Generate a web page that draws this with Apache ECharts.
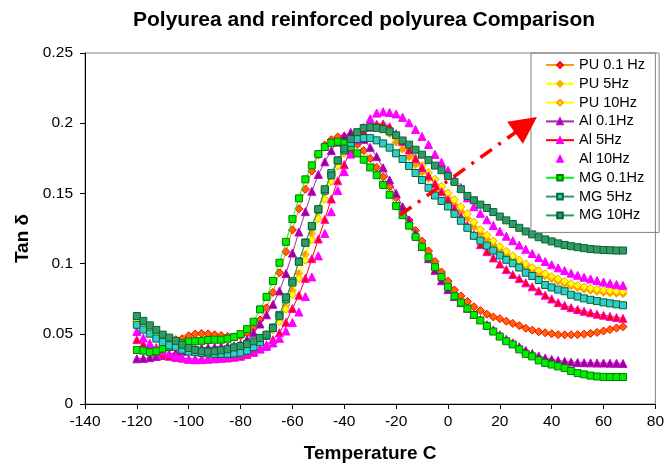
<!DOCTYPE html>
<html>
<head>
<meta charset="utf-8">
<script src="https://cdn.jsdelivr.net/npm/echarts@6/dist/echarts.min.js"></script>
<style>
html,body{margin:0;padding:0;background:#fff;}
#chart{width:667px;height:468px;}
</style>
</head>
<body>
<div id="chart"></div>
<script>
const temps = [-120,-117.5,-115,-112.5,-110,-107.5,-105,-102.5,-100,-97.5,-95,-92.5,-90,-87.5,-85,-82.5,-80,-77.5,-75,-72.5,-70,-67.5,-65,-62.5,-60,-57.5,-55,-52.5,-50,-47.5,-45,-42.5,-40,-37.5,-35,-32.5,-30,-27.5,-25,-22.5,-20,-17.5,-15,-12.5,-10,-7.5,-5,-2.5,0,2.5,5,7.5,10,12.5,15,17.5,20,22.5,25,27.5,30,32.5,35,37.5,40,42.5,45,47.5,50,52.5,55,57.5,60,62.5,65,67.5];

const pu01 = [0.0606,0.0575,0.0545,0.0515,0.049,0.047,0.0458,0.0465,0.0486,0.0498,0.0502,0.05,0.0493,0.0488,0.0482,0.0478,0.0484,0.0505,0.054,0.0598,0.0685,0.0795,0.0935,0.1085,0.124,0.139,0.153,0.166,0.1775,0.1845,0.1882,0.1902,0.1905,0.1885,0.1848,0.1805,0.1748,0.1685,0.1618,0.1548,0.147,0.139,0.131,0.1235,0.116,0.109,0.1015,0.094,0.0875,0.0812,0.077,0.073,0.0693,0.0665,0.064,0.062,0.0608,0.059,0.0574,0.0558,0.054,0.0526,0.0515,0.0507,0.05,0.0494,0.0493,0.0493,0.0494,0.0497,0.0502,0.051,0.052,0.053,0.0541,0.055];
const pu5 = [0.0598,0.0565,0.0532,0.05,0.047,0.0445,0.0425,0.0405,0.039,0.038,0.0373,0.0368,0.0366,0.0367,0.037,0.0377,0.0388,0.0405,0.0428,0.0458,0.0495,0.0545,0.0615,0.0705,0.081,0.093,0.1065,0.1215,0.1365,0.1505,0.1625,0.173,0.1815,0.188,0.1925,0.1955,0.1975,0.1985,0.1965,0.1925,0.1865,0.1815,0.176,0.1705,0.1652,0.1605,0.156,0.151,0.1462,0.142,0.137,0.1322,0.1262,0.1212,0.1175,0.1135,0.1098,0.1063,0.1032,0.1003,0.0978,0.0952,0.0932,0.0912,0.0892,0.0874,0.0857,0.0841,0.0828,0.0818,0.0809,0.0801,0.0795,0.0791,0.0788,0.0785];
const pu10 = [0.0592,0.0558,0.0526,0.0495,0.0466,0.0441,0.042,0.0402,0.0388,0.0378,0.0371,0.0367,0.0365,0.0366,0.0369,0.0375,0.0385,0.04,0.042,0.0448,0.0482,0.0528,0.059,0.0675,0.078,0.0895,0.1025,0.117,0.132,0.146,0.1585,0.1695,0.1785,0.1855,0.1905,0.1945,0.197,0.1985,0.199,0.1962,0.1915,0.1862,0.1808,0.1752,0.1698,0.1648,0.16,0.155,0.1502,0.1455,0.1405,0.1355,0.1295,0.1242,0.1202,0.1162,0.1122,0.1088,0.1055,0.1025,0.0998,0.0972,0.095,0.0928,0.0908,0.089,0.0873,0.0857,0.0844,0.0833,0.0824,0.0816,0.081,0.0806,0.0803,0.0801];
const al01 = [0.0322,0.0325,0.033,0.0338,0.0345,0.0355,0.0365,0.0375,0.0385,0.0392,0.0398,0.0402,0.0405,0.0408,0.041,0.0415,0.0425,0.046,0.051,0.057,0.0635,0.071,0.0805,0.093,0.1075,0.1225,0.137,0.1515,0.1635,0.1725,0.1805,0.1865,0.191,0.1935,0.1925,0.1885,0.1828,0.1762,0.1682,0.1595,0.15,0.1405,0.131,0.1215,0.1122,0.1035,0.0952,0.0878,0.0815,0.0765,0.0722,0.0682,0.064,0.0602,0.0565,0.0528,0.0493,0.0462,0.0436,0.0408,0.0382,0.036,0.0342,0.0328,0.0318,0.031,0.0304,0.0299,0.0296,0.0294,0.0293,0.0292,0.0292,0.0291,0.029,0.0289];
const al5 = [0.0458,0.0425,0.0395,0.037,0.0352,0.034,0.0332,0.0327,0.0322,0.032,0.032,0.032,0.0322,0.0325,0.0328,0.0333,0.034,0.0352,0.0368,0.0392,0.0422,0.0458,0.0508,0.0582,0.068,0.0775,0.0895,0.1035,0.1175,0.1315,0.146,0.159,0.1705,0.1805,0.188,0.1935,0.1972,0.1992,0.1995,0.1975,0.1925,0.187,0.181,0.1748,0.1685,0.1625,0.1568,0.1512,0.1455,0.1395,0.1335,0.127,0.1205,0.1135,0.1085,0.104,0.0997,0.0958,0.0922,0.0893,0.0863,0.0835,0.0805,0.0775,0.0748,0.0722,0.0702,0.0686,0.0673,0.0661,0.065,0.064,0.0632,0.0624,0.0616,0.061];
const al10 = [0.0517,0.047,0.0432,0.0402,0.0378,0.0358,0.0342,0.0328,0.0318,0.0315,0.0316,0.032,0.0326,0.0333,0.0339,0.0345,0.0352,0.0364,0.0378,0.0393,0.041,0.0435,0.0468,0.052,0.058,0.0655,0.0765,0.0905,0.1055,0.1215,0.137,0.152,0.1655,0.178,0.1885,0.197,0.2032,0.2072,0.2082,0.2076,0.2066,0.2042,0.2003,0.1955,0.1905,0.1848,0.1778,0.1722,0.1665,0.1598,0.1543,0.1468,0.1405,0.1358,0.1312,0.1272,0.123,0.1195,0.1163,0.1132,0.1102,0.1072,0.1043,0.1015,0.0992,0.097,0.095,0.0932,0.0917,0.0903,0.0891,0.0879,0.0869,0.086,0.0852,0.0845];
const mg01 = [0.0385,0.038,0.0369,0.0376,0.0394,0.0406,0.042,0.0434,0.0445,0.0447,0.045,0.0456,0.0458,0.0458,0.0465,0.0477,0.0498,0.0533,0.0586,0.0674,0.0763,0.0876,0.1006,0.1155,0.1317,0.1465,0.16,0.17,0.178,0.183,0.186,0.1868,0.1858,0.183,0.1785,0.174,0.1685,0.163,0.156,0.149,0.141,0.1345,0.127,0.119,0.112,0.1045,0.0975,0.0905,0.0835,0.0768,0.0722,0.068,0.0634,0.0595,0.0556,0.0516,0.048,0.0447,0.0424,0.0389,0.0357,0.0339,0.0311,0.0293,0.0281,0.0268,0.0256,0.0235,0.022,0.0211,0.0202,0.0196,0.0193,0.0192,0.0192,0.0192];
const mg5 = [0.0564,0.053,0.0501,0.0466,0.0441,0.0418,0.0408,0.0387,0.0374,0.0369,0.0364,0.036,0.0357,0.0357,0.0357,0.036,0.0366,0.038,0.0405,0.044,0.0485,0.0545,0.0635,0.0745,0.0875,0.1015,0.115,0.1265,0.1385,0.152,0.1645,0.1735,0.1805,0.186,0.1888,0.1894,0.1894,0.1878,0.1856,0.1826,0.1785,0.1745,0.1695,0.1645,0.1595,0.154,0.1485,0.1446,0.1407,0.1354,0.1305,0.1255,0.1198,0.1163,0.1128,0.1093,0.1058,0.1027,0.1002,0.0972,0.0935,0.0912,0.0883,0.0848,0.083,0.0815,0.0803,0.0778,0.0765,0.0752,0.0742,0.0733,0.0724,0.0717,0.071,0.0703];
const mg10 = [0.0627,0.0592,0.056,0.0528,0.0494,0.0473,0.045,0.0422,0.0399,0.0385,0.0376,0.0373,0.0376,0.0383,0.039,0.0403,0.0413,0.0427,0.0446,0.047,0.0494,0.054,0.0625,0.076,0.0865,0.1013,0.1148,0.1268,0.1388,0.153,0.1628,0.1734,0.1819,0.1887,0.1936,0.1965,0.1972,0.1967,0.1958,0.1941,0.1914,0.1877,0.1847,0.1811,0.1776,0.1737,0.1698,0.1665,0.1623,0.1582,0.153,0.1482,0.1451,0.142,0.1396,0.1367,0.1335,0.1308,0.1282,0.1255,0.1229,0.1208,0.1188,0.1172,0.1158,0.1144,0.1133,0.1124,0.1117,0.111,0.1104,0.11,0.1097,0.1095,0.1093,0.1093];

const seriesNames = ['PU 0.1 Hz','PU 5Hz','PU 10Hz','Al 0.1Hz','Al 5Hz','Al 10Hz','MG 0.1Hz','MG 5Hz','MG 10Hz'];
const xTicks = {min: -140, max: 80, step: 20};
const yTicks = {min: 0, max: 0.25, step: 0.05};
const arrowStart = [-18.5, 0.1345];
const arrowEnd = [30.1, 0.1988];

function pts(arr){ return temps.map((t,i)=>[t, arr[i]]); }

const styles = [
  {data: pu01, symbol:'diamond', size:8, line:'#FF9900', fill:'#FF6600', border:'#FF0000'},
  {data: pu5, symbol:'diamond', size:8, line:'#FFFF00', fill:'#FF9900', border:'#FFB000'},
  {data: pu10, symbol:'diamond', size:8, line:'#FFFF00', fill:'#FFFF00', border:'#FF9900'},
  {data: al01, symbol:'triangle', size:8, line:'#993399', fill:'#990099', border:'#CC00CC'},
  {data: al5, symbol:'triangle', size:8, line:'#FF0000', fill:'#FF0000', border:'#FF00FF'},
  {data: al10, symbol:'triangle', size:8, line:null, fill:'#FF00FF', border:'#FF00FF'},
  {data: mg01, symbol:'rect', size:7, line:'#00FF00', fill:'#00EE00', border:'#008000'},
  {data: mg5, symbol:'rect', size:7, line:'#339966', fill:'#33CCCC', border:'#006633'},
  {data: mg10, symbol:'rect', size:7, line:'#339966', fill:'#339966', border:'#006633'}
];

const series = styles.map((s,i)=>({
  name: seriesNames[i],
  type: 'line',
  data: pts(s.data),
  symbol: s.symbol,
  symbolSize: s.size,
  showAllSymbol: true,
  smooth: false,
  lineStyle: s.line ? {color: s.line, width: 1} : {color: s.fill, width: 0, opacity: 0},
  itemStyle: {color: s.fill, borderColor: s.border, borderWidth: 1},
  emphasis: {disabled: true},
  z: 2 + i*0.01
}));

series[8].markLine = {
  silent: true,
  z: 20,
  animation: false,
  symbol: ['none', 'triangle'],
  symbolSize: 27,
  label: {show: false},
  lineStyle: {color: '#FF0000', width: 3.5, type: [14, 8, 3, 8], opacity: 1},
  data: [[{coord: arrowStart}, {coord: arrowEnd}]]
};

const chart = echarts.init(document.getElementById('chart'), null, {renderer: 'canvas'});
chart.setOption({
  animation: false,
  backgroundColor: '#FFFFFF',
  textStyle: {fontFamily: 'Liberation Sans, Arial, sans-serif', color: '#000'},
  title: {
    text: 'Polyurea and reinforced polyurea Comparison',
    left: 128, top: 5,
    textStyle: {fontSize: 21, fontWeight: 'bold', color: '#000', fontFamily: 'Liberation Sans, Arial, sans-serif'}
  },
  grid: {left: 85, right: 6, top: 53, bottom: 61.5, show: true, borderColor: '#808080', borderWidth: 1, backgroundColor: 'transparent'},
  legend: {
    orient: 'vertical',
    left: 531, top: 53,
    padding: [4, 14, 9, 14],
    itemWidth: 28, itemHeight: 7, itemGap: 2.8,
    borderColor: '#808080', borderWidth: 1,
    backgroundColor: 'transparent',
    data: seriesNames,
    textStyle: {fontSize: 14.5, lineHeight: 16, color: '#000', fontFamily: 'Liberation Sans, Arial, sans-serif'}
  },
  xAxis: {
    type: 'value', min: xTicks.min, max: xTicks.max, interval: xTicks.step,
    name: 'Temperature C', nameLocation: 'middle', nameGap: 40,
    nameTextStyle: {fontSize: 19, fontWeight: 'bold', color: '#000'},
    axisLine: {show: true, onZero: false, lineStyle: {color: '#000', width: 1}},
    axisTick: {show: true, inside: false, length: 5, lineStyle: {color: '#000'}},
    axisLabel: {fontSize: 15.5, color: '#000', margin: 10},
    splitLine: {show: false}
  },
  yAxis: {
    type: 'value', min: yTicks.min, max: yTicks.max, interval: yTicks.step,
    name: 'Tan δ', nameLocation: 'middle', nameGap: 47, nameRotate: 90,
    nameTextStyle: {fontSize: 19, fontWeight: 'bold', color: '#000', padding: [0, 20, 0, 0]},
    axisLine: {show: true, onZero: false, lineStyle: {color: '#000', width: 1}},
    axisTick: {show: true, inside: false, length: 5, lineStyle: {color: '#000'}},
    axisLabel: {fontSize: 15.5, color: '#000', margin: 12, formatter: v => String(Math.round(v*100)/100)},
    splitLine: {show: false}
  },
  series: series
});
</script>
</body>
</html>
